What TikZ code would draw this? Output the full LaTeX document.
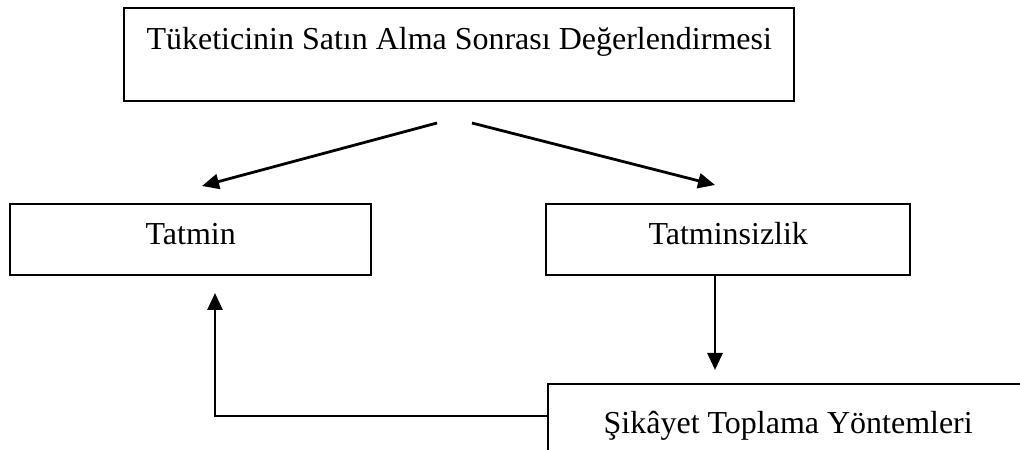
\documentclass[tikz,border=0pt]{standalone}
\usepackage{fontspec}
\setmainfont{Liberation Serif}
\usetikzlibrary{arrows.meta}
\begin{document}
\begin{tikzpicture}[x=1bp,y=-1bp,
  box/.style={draw, line width=2.4bp, inner sep=0pt, anchor=north west,
    font=\fontsize{32.1}{38}\selectfont},
  flow/.style={line width=2.8bp, -{Triangle[length=17bp,width=15bp]}}]
\useasboundingbox (0,0) rectangle (1020,450);
\clip (0,0) rectangle (1020,450);

% boxes
\node[box, minimum width=670bp, text height=41bp, text depth=52bp] (top) at (123,7)
  {Tüketicinin Satın Alma Sonrası Değerlendirmesi};
\node[box, minimum width=361bp, text height=40bp, text depth=31bp] (sat) at (9,203) {Tatmin};
\node[box, minimum width=364bp, text height=40bp, text depth=31bp] (dis) at (545,203) {Tatminsizlik};
\node[box, minimum width=480bp, text height=49bp, text depth=40bp] (comp) at (547,383)
  {Şikâyet Toplama Yöntemleri};

% fork below the top box
\coordinate (forkL) at (437,123);
\coordinate (forkR) at (472,123);
\coordinate (tipL) at (202,186);
\coordinate (tipR) at (715,185);
\draw[flow] (forkL) -- (tipL);
\draw[flow] (forkR) -- (tipR);

% dissatisfaction to complaint collection
\coordinate (tipC) at (715,370);
\draw[flow] (dis.south -| tipC) -- (tipC);

% feedback from complaint collection back to satisfaction
\coordinate (ret) at (215,416);
\coordinate (tipS) at (215,293);
\draw[flow] (comp.west |- ret) -- (ret) -- (tipS);
\end{tikzpicture}
\end{document}
